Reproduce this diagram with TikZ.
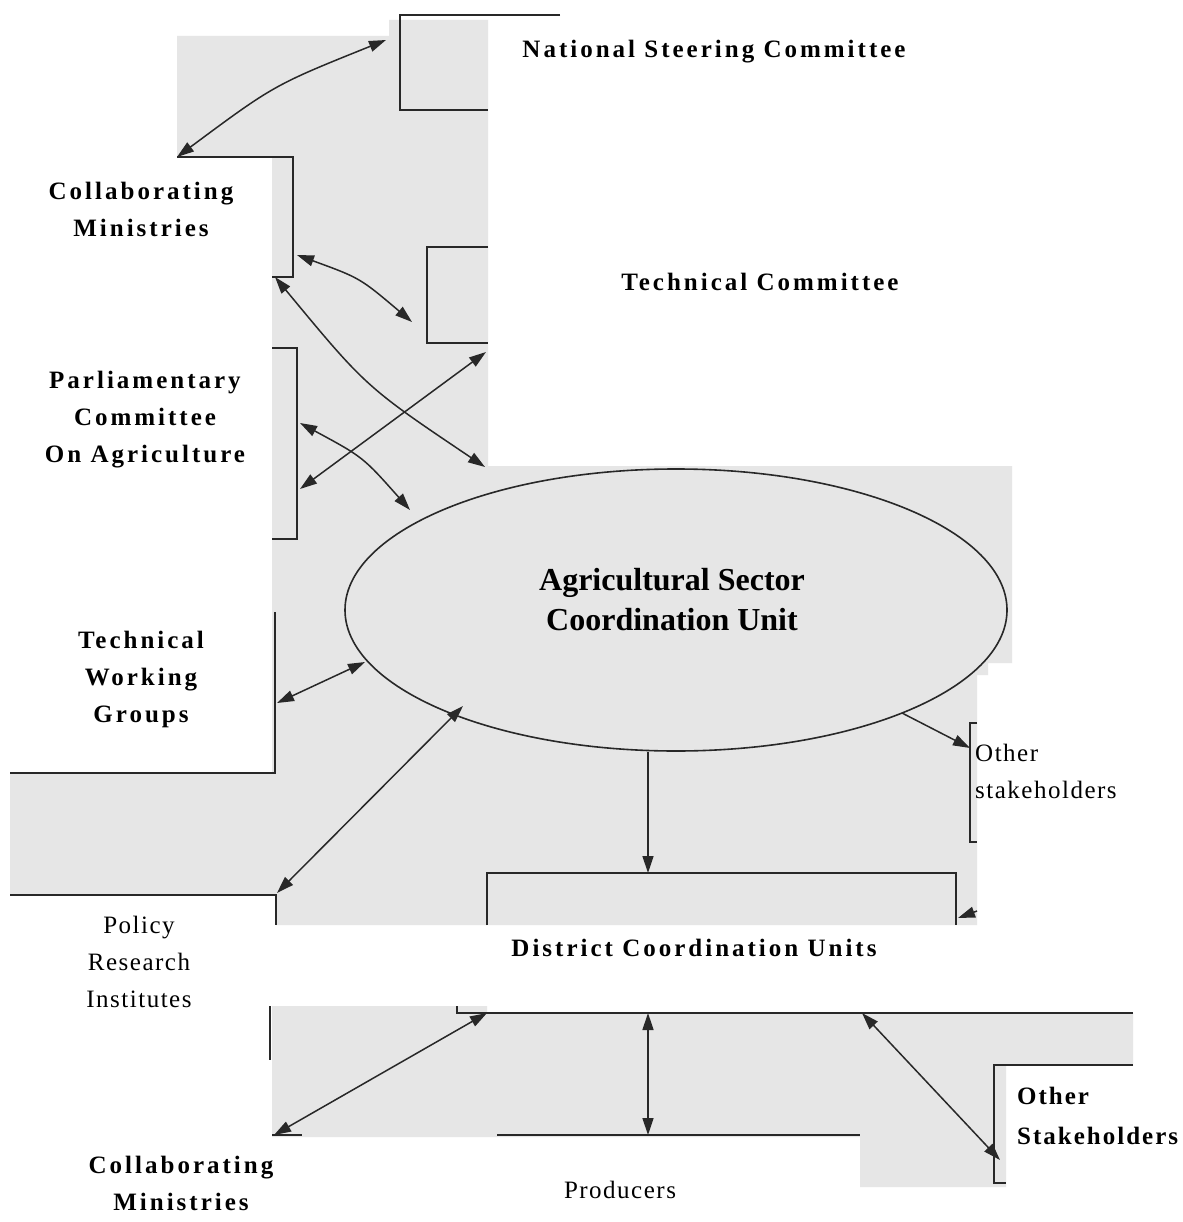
\documentclass[tikz,border=0pt]{standalone}
\usepackage{fontspec}
\setmainfont{Liberation Serif}
\newfontfamily\spacedfam[LetterSpace=12]{Liberation Serif}
\newfontfamily\lightspaced[LetterSpace=6]{Liberation Serif}
\newfontfamily\midspaced[LetterSpace=8]{Liberation Serif}
\usetikzlibrary{arrows.meta,shapes.geometric}
\definecolor{patchgrey}{RGB}{230,230,230}
\definecolor{linegrey}{RGB}{40,40,40}
\tikzset{
  patch/.style={fill=patchgrey, draw=none},
  boxline/.style={draw=linegrey, line width=1.8pt},
  conn/.style={draw=linegrey, line width=1.5pt},
  dblarrow/.style={conn, {Triangle[length=17pt,width=11pt]}-{Triangle[length=17pt,width=11pt]}},
  sglarrow/.style={conn, -{Triangle[length=17pt,width=11pt]}},
  blab/.style={font=\spacedfam\bfseries\fontsize{25}{37}\selectfont, align=center, inner sep=0pt},
  rlab/.style={font=\lightspaced\fontsize{25}{37}\selectfont, align=center, inner sep=0pt},
}
\begin{document}
\begin{tikzpicture}[x=1pt,y=-1pt]
\useasboundingbox (0,0) rectangle (1182,1222);
\fill[white] (0,0) rectangle (1182,1222);
% grey patches
\fill[patch] (177,36) -- (389,36) -- (389,20) -- (488,20) -- (488,466) -- (1012,466)
  -- (1012,663) -- (988,663) -- (988,675) -- (977,675) -- (977,925) -- (276,925)
  -- (276,895) -- (10,895) -- (10,773) -- (272,773) -- (272,157) -- (177,157) -- cycle;
\fill[patch] (272,1006) -- (487,1006) -- (487,1013) -- (1133,1013) -- (1133,1065)
  -- (1006,1065) -- (1006,1187) -- (860,1187) -- (860,1137) -- (272,1137) -- cycle;
% box fragments
\draw[boxline] (560,15) -- (400,15) -- (400,110) -- (488,110);
\draw[boxline] (177,157) -- (293,157) -- (293,277) -- (272,277);
\draw[boxline] (488,247) -- (427,247) -- (427,343) -- (488,343);
\draw[boxline] (272,348) -- (297,348) -- (297,539) -- (272,539);
\draw[boxline] (275,612) -- (275,773) -- (10,773);
\draw[boxline] (10,895) -- (276,895) -- (276,925);
\draw[boxline] (270,1006) -- (270,1060);
\draw[boxline] (977,723) -- (970,723) -- (970,842) -- (977,842);
\draw[boxline] (487,925) -- (487,873) -- (956,873) -- (956,925);
\draw[boxline] (457,1006) -- (457,1013) -- (1133,1013);
\draw[boxline] (497,1135) -- (860,1135);
\draw[boxline] (272,1135) -- (302,1135);
\draw[boxline] (1133,1065) -- (994,1065) -- (994,1183) -- (1006,1183);
% ellipse
\node[ellipse, draw=linegrey, line width=1.6pt, minimum width=662pt, minimum height=282pt, inner sep=0pt] (ascu) at (676,610) {};
% labels
\node[blab] (nsc) at (714,52) {National Steering Committee};
\node[blab] (cm1) at (141,209) {Collaborating\\Ministries};
\node[blab] (tc) at (760,282) {Technical Committee};
\node[blab] (parl) at (145,420) {Parliamentary\\Committee\\On Agriculture};
\node[font=\bfseries\fontsize{32}{40}\selectfont, align=center, inner sep=0pt] (ascutext) at (672,600) {Agricultural Sector\\Coordination Unit};
\node[blab] (twg) at (141,679) {Technical\\Working\\Groups};
\node[rlab, align=left, anchor=west] (os1) at (975,771) {Other\\stakeholders};
\node[rlab] (pri) at (139,962) {Policy\\Research\\Institutes};
\node[blab] (dcu) at (694,948) {District Coordination Units};
\node[blab, font=\midspaced\bfseries\fontsize{25}{40}\selectfont, align=left, anchor=west] (os2) at (1017,1116) {Other\\Stakeholders};
\node[blab] (cm2) at (181,1183) {Collaborating\\Ministries};
\node[rlab] (prod) at (620,1190) {Producers};
% connector end points
\coordinate (nscA) at (386,40);
\coordinate (cm1A) at (177,157);
\coordinate (cm1B) at (297,255);
\coordinate (tcA) at (412,322);
\coordinate (cm1C) at (275,277);
\coordinate (ascuA) at (485,467);
\coordinate (parlA) at (300,423);
\coordinate (ascuB) at (410,510);
\coordinate (parlB) at (300,489);
\coordinate (tcB) at (486,352);
\coordinate (twgA) at (277,703);
\coordinate (ascuC) at (365,662);
\coordinate (priA) at (277,893);
\coordinate (ascuD) at (463,706);
\coordinate (ascuE) at (648,752);
\coordinate (dcuA) at (648,873);
\coordinate (ascuF) at (902,713);
\coordinate (os1A) at (970,748);
\coordinate (os1B) at (977,911);
\coordinate (dcuB) at (958,918);
\coordinate (prodA) at (487,1013);
\coordinate (cm2A) at (274,1135);
\coordinate (prodB) at (648,1013);
\coordinate (prodC) at (648,1135);
\coordinate (prodD) at (862,1013);
\coordinate (os2A) at (1000,1160);
% connectors
\draw[dblarrow] (nscA) .. controls (274,85) .. (cm1A);
\draw[dblarrow] (cm1B) .. controls (360,278) .. (tcA);
\draw[dblarrow] (cm1C) .. controls (366,387) .. (ascuA);
\draw[dblarrow] (parlA) .. controls (363,457) .. (ascuB);
\draw[dblarrow] (parlB) -- (tcB);
\draw[dblarrow] (twgA) -- (ascuC);
\draw[dblarrow] (priA) -- (ascuD);
\draw[sglarrow] (ascuE) -- (dcuA);
\draw[sglarrow] (ascuF) -- (os1A);
\draw[sglarrow] (os1B) -- (dcuB);
\draw[dblarrow] (prodA) -- (cm2A);
\draw[dblarrow] (prodB) -- (prodC);
\draw[dblarrow] (prodD) -- (os2A);
\end{tikzpicture}
\end{document}
